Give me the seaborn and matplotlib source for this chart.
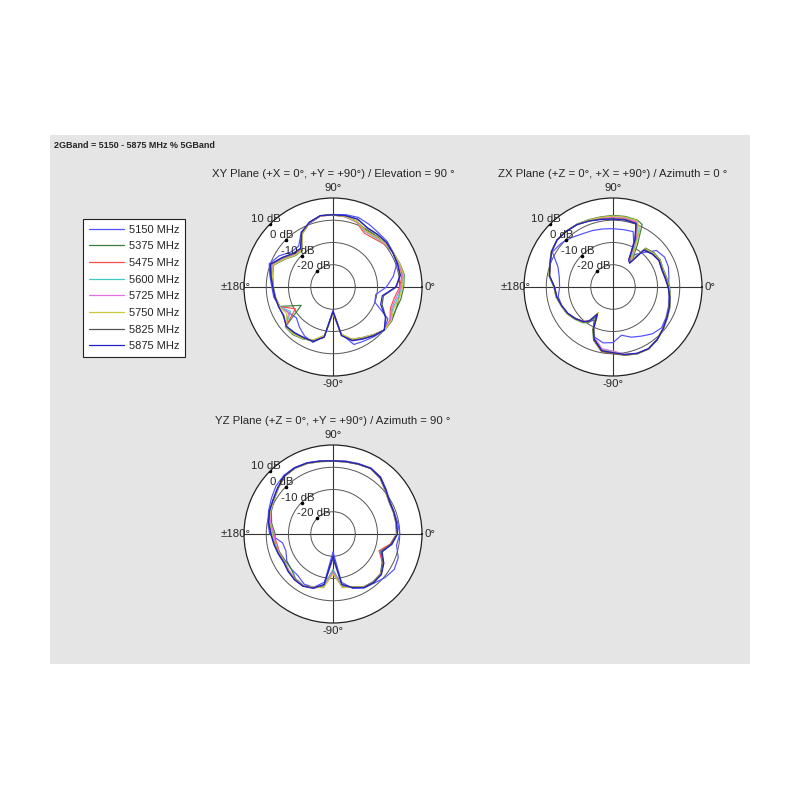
import numpy as np
import pandas as pd
import matplotlib
matplotlib.use("Agg")
import matplotlib.pyplot as plt
from matplotlib.patches import Rectangle
from matplotlib.lines import Line2D
import seaborn as sns

sns.set_style("white")
plt.rcParams['font.family'] = ['Liberation Sans', 'DejaVu Sans']

# ---- data (gain in dB) ----
freqs = ['5150 MHz', '5375 MHz', '5475 MHz', '5600 MHz',
         '5725 MHz', '5750 MHz', '5825 MHz', '5875 MHz']
colors = ['#5050ff', '#3c7d3c', '#ff4a4a', '#3fc8c8',
          '#e070e0', '#c8c83a', '#555555', '#2020c8']

xy_angles = list(range(0, 360, 10))
xy_5150 = [-6.0, -2.5, 0.5, 1.2, 1.8, 1.8, 2.5, 3.3, 3.0, 2.6, 2.4, 0.5, -1.5, -6.0, -5.5, -2.0, 0.5, -1.2,
           -2.5, -3.0, -4.5, -7.0, -8.5, -6.5, -4.5, -3.5, -7.5, -19.5, -8.5, -2.5, -2.0, -1.0, 0.0, -1.5, -10.0, -10.5]
xy_5375 = [1.8, 2.5, 1.8, 1.2, 0.5, 0.0, -0.5, 1.5, 2.2, 2.4, 2.5, 0.8, -2.5, -8.5, -8.0, -5.0, -1.5, -2.5,
           -3.2, -3.8, -4.5, -13.5, -2.0, -2.0, -3.0, -4.5, -7.5, -18.5, -8.0, -5.0, -3.8, -2.0, 0.3, 0.5, 0.0, 1.0]
xy_5475 = [0.0, 1.5, 1.5, 1.0, 0.0, -1.5, -2.0, 1.0, 2.0, 2.3, 2.4, 0.8, -2.2, -8.0, -7.5, -4.5, -1.0, -2.2,
           -3.0, -3.6, -4.2, -10.5, -2.2, -2.5, -3.2, -4.2, -7.2, -18.8, -8.2, -4.8, -3.5, -1.8, 0.2, -0.5, -2.5, -2.0]
xy_5600 = [1.0, 2.0, 1.6, 1.1, 0.3, -0.8, -1.2, 1.2, 2.1, 2.4, 2.5, 0.9, -2.3, -8.2, -7.7, -4.7, -1.2, -2.3,
           -3.1, -3.7, -4.3, -8.0, -2.1, -2.3, -3.1, -4.3, -7.3, -18.7, -8.1, -4.9, -3.6, -1.9, 0.2, 0.0, -1.5, -0.5]
xy_5725 = [0.5, 1.8, 1.6, 1.1, 0.4, -0.5, -1.0, 1.3, 2.1, 2.4, 2.5, 0.9, -2.2, -8.0, -7.4, -4.4, -1.0, -2.2,
           -3.0, -3.6, -4.2, -7.0, -2.3, -2.6, -3.3, -4.6, -7.8, -18.2, -8.4, -5.0, -3.6, -1.9, 0.1, -0.2, -2.0, -1.2]
xy_5750 = [1.3, 2.2, 1.7, 1.2, 0.5, -0.3, -0.8, 1.4, 2.2, 2.4, 2.5, 0.9, -2.4, -8.3, -7.8, -4.8, -1.3, -2.4,
           -3.1, -3.7, -4.4, -6.0, -2.2, -2.4, -3.2, -4.8, -8.0, -17.8, -8.6, -5.1, -3.7, -2.0, 0.2, 0.2, -1.0, 0.2]
xy_5825 = [-1.5, 0.8, 0.9, 1.0, 1.2, 0.8, 0.7, 2.4, 2.5, 2.4, 2.6, 1.0, -1.8, -7.5, -6.8, -3.8, -0.3, -1.8,
           -3.0, -3.6, -4.0, -4.5, -2.5, -3.0, -3.6, -4.0, -7.0, -18.9, -7.8, -4.4, -3.2, -1.6, 0.0, -2.5, -6.5, -7.0]
xy_5875 = [-1.8, 0.6, 0.8, 1.0, 1.3, 1.0, 0.8, 2.5, 2.6, 2.5, 2.6, 1.0, -1.6, -7.3, -6.5, -3.5, 0.0, -1.6,
           -2.9, -3.5, -4.0, -4.2, -2.6, -3.2, -3.8, -4.0, -7.2, -19.0, -7.8, -4.3, -3.0, -1.4, 0.1, -2.8, -7.2, -7.5]

zx_angles = [0, 10, 20, 30, 40, 50, 55, 60, 65, 70, 80, 90, 100, 110, 120, 130, 140, 150, 160, 170,
             180, 190, 200, 210, 220, 230, 235, 240, 245, 250, 260, 270, 280, 290, 300, 310, 320, 330, 340, 350]
zx_5150 = [-5.0, -4.5, -3.5, -3.2, -4.5, -10.0, -12.0, -14.5, -8.0, -3.5, -3.8, -3.8, -3.5, -3.0, -2.4, -1.0, 0.5, 1.5, -3.7, -5.5,
           -6.0, -5.0, -5.5, -6.5, -8.0, -9.5, -10.5, -13.0, -9.0, -6.0, -4.5, -5.0, -8.0, -6.0, -4.5, -2.5, -1.5, -2.5, -3.5, -4.5]
zx_5375 = [-4.5, -5.5, -6.0, -5.5, -6.0, -7.2, -15.0, -8.0, 1.0, 2.0, 2.2, 2.2, 2.0, 2.2, 2.6, 2.8, 2.9, 2.0, 0.3, -0.8,
           -3.4, -4.0, -5.2, -6.0, -7.5, -9.0, -10.5, -14.5, -8.5, -4.5, -0.5, 0.0, 1.2, 2.0, 2.2, 1.0, -0.5, -1.8, -2.8, -3.8]
zx_5475 = [-5.0, -6.2, -6.6, -6.1, -6.9, -8.2, -15.0, -15.5, -6.5, 1.0, 1.2, 1.3, 1.4, 1.8, 2.4, 2.7, 2.8, 1.8, 0.0, -1.0,
           -3.7, -4.3, -5.4, -6.4, -8.0, -9.8, -11.5, -16.0, -9.2, -5.0, -0.6, -0.2, 1.0, 1.9, 2.1, 0.9, -0.7, -2.1, -3.1, -4.1]
zx_5600 = [-4.8, -5.8, -6.3, -5.8, -6.5, -7.8, -15.5, -12.0, -3.0, 1.5, 1.6, 1.7, 1.6, 1.9, 2.5, 2.7, 2.8, 1.9, 0.1, -0.9,
           -3.6, -4.2, -5.3, -6.2, -7.8, -9.5, -11.2, -15.8, -9.5, -5.5, -1.5, -1.0, 0.8, 1.8, 2.0, 0.8, -0.6, -2.0, -3.0, -4.0]
zx_5725 = [-4.9, -5.9, -6.4, -5.9, -6.6, -7.9, -15.2, -13.5, -4.5, 1.3, 1.4, 1.5, 1.5, 1.8, 2.4, 2.7, 2.8, 1.9, 0.0, -1.0,
           -3.7, -4.3, -5.4, -6.3, -7.9, -9.6, -11.4, -16.2, -9.8, -5.8, -1.8, -1.2, 0.7, 1.7, 2.0, 0.8, -0.7, -2.1, -3.1, -4.1]
zx_5750 = [-4.7, -5.7, -6.2, -5.7, -6.3, -7.5, -15.8, -10.5, -1.5, 1.8, 1.9, 1.9, 1.8, 2.0, 2.5, 2.8, 2.9, 2.0, 0.2, -0.8,
           -3.5, -4.1, -5.2, -6.1, -7.6, -9.3, -11.0, -16.8, -10.0, -5.2, -1.2, -0.6, 0.9, 1.9, 2.1, 0.9, -0.5, -1.9, -2.9, -3.9]
zx_5825 = [-5.0, -6.0, -6.5, -6.0, -6.8, -8.0, -16.5, -15.0, -6.0, 0.5, 0.8, 0.7, 1.0, 1.6, 2.3, 2.6, 2.8, 1.8, 0.0, -1.1,
           -3.8, -4.4, -5.5, -6.5, -8.0, -9.5, -11.0, -15.5, -9.0, -5.0, -0.8, -0.3, 0.9, 1.8, 2.0, 0.8, -0.8, -2.2, -3.2, -4.2]
zx_5875 = [-5.3, -6.3, -6.8, -6.2, -7.0, -8.5, -17.0, -16.0, -7.0, 0.3, 0.6, 0.5, 0.8, 1.5, 2.4, 2.7, 2.9, 1.9, 0.2, -1.0,
           -3.6, -4.3, -5.4, -6.4, -7.8, -9.6, -11.5, -16.0, -9.5, -5.2, -1.0, -0.5, 0.8, 1.7, 2.0, 0.9, -0.6, -2.0, -3.0, -4.0]

yz_angles = list(range(0, 360, 10))
yz_5150 = [0.0, -0.5, -0.8, -0.5, 1.2, 3.4, 4.2, 3.7, 3.3, 3.0, 3.4, 4.1, 4.5, 4.4, 3.5, 2.0, 0.8, -0.3,
           -1.5, -7.0, -7.5, -6.0, -5.5, -5.5, -4.0, -4.5, -8.0, -22.0, -8.0, -4.0, -2.0, -1.2, 0.5, 1.8, 1.2, -1.0]
yz_5375 = [-1.5, -1.3, -1.2, -1.0, 0.5, 2.8, 3.9, 3.3, 2.9, 2.7, 3.0, 3.7, 4.1, 3.8, 2.0, 0.6, -0.5, -2.0,
           -4.0, -3.5, -4.8, -5.5, -5.5, -3.8, -3.3, -4.5, -6.0, -13.0, -6.0, -4.8, -2.6, -2.0, -2.2, -4.5, -7.5, -3.8]
yz_5475 = [-1.3, -1.2, -1.1, -0.9, 0.6, 2.9, 4.0, 3.4, 2.9, 2.7, 3.1, 3.8, 4.2, 3.9, 2.2, 0.9, 0.0, -1.2,
           -3.0, -4.5, -4.5, -5.0, -4.0, -3.5, -3.2, -4.3, -5.8, -14.0, -5.8, -4.6, -2.5, -1.8, -2.0, -4.2, -8.0, -3.8]
yz_5600 = [-1.2, -1.1, -1.0, -0.8, 0.7, 3.0, 4.0, 3.4, 3.0, 2.8, 3.1, 3.8, 4.2, 3.9, 2.2, 0.8, 0.0, -1.0,
           -2.8, -3.8, -4.3, -4.9, -4.2, -3.4, -3.1, -4.3, -5.8, -14.0, -5.8, -4.6, -2.4, -1.8, -1.9, -3.8, -7.2, -3.0]
yz_5725 = [-1.2, -1.1, -1.0, -0.8, 0.7, 3.0, 4.0, 3.4, 3.0, 2.8, 3.1, 3.8, 4.2, 3.9, 2.2, 0.8, -0.2, -1.5,
           -3.5, -3.6, -4.4, -4.9, -4.3, -3.4, -3.1, -4.4, -5.6, -13.0, -5.6, -4.7, -2.4, -1.8, -1.9, -3.9, -7.0, -3.3]
yz_5750 = [-1.2, -1.1, -1.0, -0.8, 0.7, 3.0, 4.0, 3.4, 3.0, 2.8, 3.1, 3.8, 4.2, 3.9, 2.2, 0.8, 0.0, -1.0,
           -2.6, -3.4, -4.2, -4.8, -4.0, -3.3, -3.0, -4.5, -5.5, -12.0, -5.5, -4.8, -2.5, -1.8, -1.9, -3.8, -6.8, -3.2]
yz_5825 = [-1.1, -1.1, -1.0, -0.8, 0.8, 3.0, 4.0, 3.4, 3.0, 2.8, 3.2, 3.9, 4.3, 4.0, 2.3, 1.0, 0.3, -0.7,
           -2.2, -3.2, -4.0, -4.6, -3.8, -3.2, -3.0, -4.2, -6.8, -19.0, -6.8, -4.5, -2.3, -1.7, -1.8, -4.0, -7.0, -3.5]
yz_5875 = [-1.0, -1.0, -0.9, -0.6, 1.0, 3.2, 4.1, 3.5, 3.1, 2.9, 3.3, 4.0, 4.4, 4.1, 2.5, 1.1, 0.4, -0.6,
           -2.0, -3.0, -3.8, -4.4, -3.7, -3.1, -2.9, -4.0, -7.0, -20.0, -7.0, -4.3, -2.1, -1.5, -1.6, -3.6, -6.5, -3.2]

ring_db = [-20, -10, 0, 10]
theta_labels = {0: '0°', 90: '90°', 180: '±180°', 270: '-90°'}

planes = [
    ('XY Plane (+X = 0°, +Y = +90°) / Elevation = 90 °', xy_angles,
     [xy_5150, xy_5375, xy_5475, xy_5600, xy_5725, xy_5750, xy_5825, xy_5875]),
    ('ZX Plane (+Z = 0°, +X = +90°) / Azimuth = 0 °', zx_angles,
     [zx_5150, zx_5375, zx_5475, zx_5600, zx_5725, zx_5750, zx_5825, zx_5875]),
    ('YZ Plane (+Z = 0°, +Y = +90°) / Azimuth = 90 °', yz_angles,
     [yz_5150, yz_5375, yz_5475, yz_5600, yz_5725, yz_5750, yz_5825, yz_5875]),
]


def long_frame(angles, series):
    rows = []
    for f, g in zip(freqs, series):
        a = list(angles) + [360]
        v = list(g) + [g[0]]
        for ang, val in zip(a, v):
            rows.append((f, np.deg2rad(ang), val))
    return pd.DataFrame(rows, columns=['freq', 'theta', 'gain'])


def polar_panel(fig, rect, title, angles, series):
    ax = fig.add_axes(rect, projection='polar', zorder=2)
    ax.set_facecolor('white')
    ax.set_ylim(-30, 10)
    ax.set_yticks(ring_db[:-1])
    ax.set_yticklabels([])
    ax.set_xticks(np.deg2rad(list(theta_labels.keys())))
    ax.set_xticklabels([])
    ax.tick_params(length=0, pad=0)
    ax.yaxis.grid(True, color='#555555', lw=0.7)
    ax.xaxis.grid(True, color='#333333', lw=0.8)
    ax.spines['polar'].set_color('#222222')
    ax.spines['polar'].set_linewidth(0.9)
    ax.set_axisbelow(True)

    df = long_frame(angles, series)
    sns.lineplot(data=df, x='theta', y='gain', hue='freq', palette=dict(zip(freqs, colors)),
                 estimator=None, sort=False, lw=0.85, legend=False, ax=ax)
    ax.set_xlabel('')
    ax.set_ylabel('')

    # ring labels along 135 deg
    for r in ring_db:
        ax.plot(np.deg2rad(135), r, 'o', color='black', ms=1.6, zorder=5)
        ax.annotate(f'{r} dB', xy=(np.deg2rad(135), r), xytext=(-4, 5),
                    textcoords='offset pixels', ha='center', va='center',
                    fontsize=8.2, zorder=6)
    for ang, lab in theta_labels.items():
        rr = 14.6 if ang == 90 else 13.6
        if ang == 270:
            rr = 13.4
        ax.text(np.deg2rad(ang), rr, lab, ha='center', va='center', fontsize=8.2)
    ax.text(0.5, 1.135, title, transform=ax.transAxes, ha='center', va='center', fontsize=8.2)
    return ax


fig = plt.figure(figsize=(8, 8), dpi=100)
fig.patches.append(Rectangle((50 / 800, 1 - 664 / 800), 700 / 800, 529 / 800,
                             transform=fig.transFigure, facecolor='#e5e5e5',
                             edgecolor='none', zorder=-5))
fig.text(54 / 800, 1 - 146 / 800, '2GBand = 5150 - 5875 MHz % 5GBand',
         fontsize=6.5, fontweight='bold', ha='left', va='center')

size = 178 / 800
rects = [
    [244 / 800, 1 - 376 / 800, size, size],
    [524 / 800, 1 - 376 / 800, size, size],
    [244 / 800, 1 - 623 / 800, size, size],
]
for rect, (title, angles, series) in zip(rects, planes):
    polar_panel(fig, rect, title, angles, series)

handles = [Line2D([0], [0], color=c, lw=0.9) for c in colors]
leg = fig.legend(handles, freqs, loc='upper left', bbox_to_anchor=(83 / 800, 1 - 219 / 800),
                 frameon=True, fancybox=False, fontsize=8, handlelength=3.2,
                 handletextpad=0.4, labelspacing=0.6, borderpad=0.5, borderaxespad=0)
leg.get_frame().set_edgecolor('#222222')
leg.get_frame().set_linewidth(0.8)
leg.get_frame().set_facecolor('white')
leg.get_frame().set_alpha(1)

fig.savefig('out.png', dpi=100, facecolor='white')
